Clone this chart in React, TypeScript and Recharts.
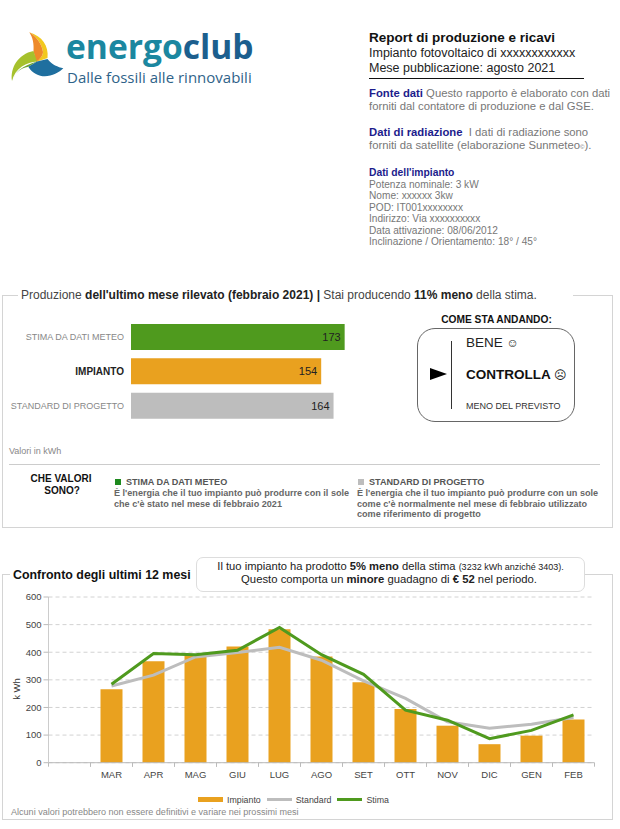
import React from "react";
import { BarChart, ComposedChart, Bar, Line, XAxis, YAxis, CartesianGrid, LabelList, Legend, Cell } from "recharts";

const months = ["", "MAR", "APR", "MAG", "GIU", "LUG", "AGO", "SET", "OTT", "NOV", "DIC", "GEN", "FEB"];
const impianto = [null, 266, 367, 391, 421, 483, 385, 291, 194, 134, 67, 98, 156];
const standard = [null, 278, 317, 383, 399, 418, 371, 296, 233, 148, 125, 139, 164];
const stima = [null, 284, 395, 391, 407, 490, 391, 320, 190, 154, 87, 117, 173];

const lastMonthLabels = ["STIMA DA DATI METEO", "IMPIANTO", "STANDARD DI PROGETTO"];
const lastMonthValues = [173, 154, 164];
const lastMonthColors = ["#4F9A1E", "#E9A11F", "#BDBDBD"];

const yTicks = [0, 100, 200, 300, 400, 500, 600];
const monthData = months.map((m, i) => ({ m, impianto: impianto[i], standard: standard[i], stima: stima[i] }));
const lastMonthData = lastMonthLabels.map((name, i) => ({ name, value: lastMonthValues[i] }));

const FONT = "'Liberation Sans', Arial, sans-serif";
const NAVY = "#1c1c8c";
const GREY = "#777";

function T({ x, cy, size, color = "#222", bold, children, right, center, family }: any) {
  const style: any = {
    position: "absolute",
    top: cy - size / 2,
    fontSize: size,
    lineHeight: `${size}px`,
    color,
    fontWeight: bold ? 700 : 400,
    whiteSpace: "nowrap",
    fontFamily: family || FONT,
  };
  if (right !== undefined) style.right = right;
  else if (center) { style.left = x; style.transform = "translateX(-50%)"; }
  else style.left = x;
  return <div style={style}>{children}</div>;
}

function Box({ x, y, w, h, color = "#d4d4d4", radius = 0, bg }: any) {
  return <div style={{ position: "absolute", left: x, top: y, width: w, height: h, boxSizing: "border-box", border: `1px solid ${color}`, borderRadius: radius, background: bg }} />;
}

function Logo() {
  return (
    <svg width={70} height={60} style={{ position: "absolute", left: 0, top: 25 }} viewBox="0 25 70 60">
      <path d="M29.3 32.3 C42 36 49 46 47.5 58 L36 62 C41 58 43 55 43 52 C42 44 36 36 29.3 32.3Z" fill="#F2C81E" />
      <path d="M29.3 32.3 C36 36 42 44 43 52 C43 56 39 60 36 62 L33.5 51 C34 44 33 38 29.3 32.3Z" fill="#EE8A2A" />
      <path d="M12 81 C10 68 18 54 33.5 51 L37 61.5 C27 62 15 68 12 81Z" fill="#A6C12C" />
      <path d="M12 81 C15 72 22 66 37 61.5 L28.3 66.7 C20 68 14 74 12 81Z" fill="#6DA52F" />
      <path d="M28.3 66.7 L37 61.5 L47.5 59 C52 65 58 67 63.3 68.3 C56 76 38 82 28.3 66.7Z" fill="#1F6F9F" />
    </svg>
  );
}

function MonthTick({ x, y, payload }: any) {
  const half = 21;
  return (
    <g>
      <line x1={x - half} x2={x - half} y1={y - 8} y2={y - 4} stroke="#bbb" />
      <line x1={x + half} x2={x + half} y1={y - 8} y2={y - 4} stroke="#bbb" />
      <text x={x} y={y + 7} textAnchor="middle" fontSize={9.5} fontFamily={FONT} fill="#444">{payload.value}</text>
    </g>
  );
}

function LastMonthTick({ x, y, payload }: any) {
  const isBold = payload.value === "IMPIANTO";
  return (
    <text x={x + 6} y={y + 3} textAnchor="end" fontSize={isBold ? 10 : 9} fontFamily={FONT} fontWeight={isBold ? 700 : 400} fill={isBold ? "#222" : "#888"}>
      {payload.value}
    </text>
  );
}

function LegendRow() {
  const item = (label: string, color: string, h: number, w: number) => (
    <span key={label} style={{ display: "inline-flex", alignItems: "center", marginRight: 6 }}>
      <span style={{ display: "inline-block", width: w, height: h, background: color, marginRight: 4 }} />
      <span style={{ fontSize: 8.8, color: "#444", fontFamily: FONT }}>{label}</span>
    </span>
  );
  return (
    <div style={{ position: "absolute", left: 189.5, top: 0, display: "flex", whiteSpace: "nowrap", lineHeight: "14px" }}>
      {item("Impianto", "#E9A11F", 5, 25)}
      {item("Standard", "#BDBDBD", 3, 25)}
      {item("Stima", "#4F9A1E", 3, 25)}
    </div>
  );
}

export default function App() {
  return (
    <div style={{ position: "absolute", left: 0, top: 0, width: 620, height: 829, overflow: "hidden", background: "#fff", fontFamily: FONT }}>
      <Logo />
      <div style={{ position: "absolute", left: 66, top: 31, fontFamily: "'Open Sans'", fontSize: 33.6, fontWeight: 700, lineHeight: "30px", whiteSpace: "nowrap" }}>
        <span style={{ color: "#1B87A0" }}>energo</span><span style={{ color: "#1C5F8E" }}>club</span>
      </div>
      <T x={67} cy={77} size={15} color="#2F6389" family="'Open Sans'">Dalle fossili alle rinnovabili</T>

      <T x={369} cy={38} size={13.5} bold color="#111">Report di produzione e ricavi</T>
      <T x={369} cy={53} size={12.5} color="#222">Impianto fotovoltaico di xxxxxxxxxxxx</T>
      <T x={369} cy={68} size={12.5} color="#222">Mese pubblicazione: agosto 2021</T>
      <div style={{ position: "absolute", left: 369, top: 77.5, width: 215, height: 1, background: "#111" }} />
      <T x={369} cy={94} size={11.3} color={GREY}><b style={{ color: NAVY }}>Fonte dati</b> Questo rapporto è elaborato con dati</T>
      <T x={369} cy={107} size={11.3} color={GREY}>forniti dal contatore di produzione e dal GSE.</T>
      <T x={369} cy={133} size={11.3} color={GREY}><b style={{ color: NAVY }}>Dati di radiazione</b>&nbsp; I dati di radiazione sono</T>
      <T x={369} cy={146} size={11.3} color={GREY}>forniti da satellite (elaborazione Sunmeteo<span style={{ fontSize: 6 }}>©</span>).</T>
      <T x={369} cy={173} size={10.3} bold color={NAVY}>Dati dell'impianto</T>
      <T x={369} cy={185} size={10.15} color={GREY}>Potenza nominale: 3 kW</T>
      <T x={369} cy={196.5} size={10.15} color={GREY}>Nome: xxxxxx 3kw</T>
      <T x={369} cy={208} size={10.15} color={GREY}>POD: IT001xxxxxxxx</T>
      <T x={369} cy={219.5} size={10.15} color={GREY}>Indirizzo: Via xxxxxxxxxx</T>
      <T x={369} cy={231} size={10.15} color={GREY}>Data attivazione: 08/06/2012</T>
      <T x={369} cy={242.5} size={10.15} color={GREY}>Inclinazione / Orientamento: 18° / 45°</T>

      <Box x={2} y={295} w={611} h={233} />
      <div style={{ position: "absolute", left: 18, top: 290, width: 555, height: 10, background: "#fff" }} />
      <T x={21} cy={295} size={12} color="#444">Produzione <b style={{ color: "#222" }}>dell'ultimo mese rilevato (febbraio 2021) |</b> Stai producendo <b style={{ color: "#222" }}>11% meno</b> della stima.</T>

      <div style={{ position: "absolute", left: 0, top: 320 }}>
        <BarChart width={378} height={103} layout="vertical" data={lastMonthData} margin={{ top: 0, right: 0, bottom: 0, left: 0 }}>
          <XAxis type="number" domain={[0, 200]} hide />
          <YAxis type="category" dataKey="name" width={131} axisLine={false} tickLine={false} tick={<LastMonthTick />} tickMargin={7} interval={0} />
          <Bar dataKey="value" barSize={26} isAnimationActive={false}>
            {lastMonthData.map((d, i) => <Cell key={d.name} fill={lastMonthColors[i]} />)}
            <LabelList dataKey="value" position="insideRight" offset={4} fontSize={11} fontFamily={FONT} fill="#222" />
          </Bar>
        </BarChart>
      </div>

      <T x={496.5} cy={320} size={10.2} bold color="#111" center>COME STA ANDANDO:</T>
      <Box x={417} y={328} w={158} h={94} radius={18} color="#666" />
      <div style={{ position: "absolute", left: 451, top: 341, width: 1, height: 68, background: "#333" }} />
      <svg width={20} height={14} style={{ position: "absolute", left: 429, top: 367 }}><path d="M1 1 L18 7 L1 13Z" fill="#000" /></svg>
      <T x={466} cy={343} size={13.5} color="#222">BENE <span style={{ fontSize: 12 }}>☺</span></T>
      <T x={466} cy={375} size={13.5} bold color="#111">CONTROLLA <span style={{ fontWeight: 400, fontSize: 12 }}>☹</span></T>
      <T x={466} cy={406} size={9} color="#333">MENO DEL PREVISTO</T>

      <T x={9} cy={451} size={9} color="#888">Valori in kWh</T>
      <div style={{ position: "absolute", left: 9, top: 464, width: 591, height: 1, background: "#ccc" }} />
      <T x={61} cy={479} size={10} bold color="#111" center>CHE VALORI</T>
      <T x={62} cy={491} size={10} bold color="#111" center>SONO?</T>

      <div style={{ position: "absolute", left: 115, top: 479, width: 6, height: 6, background: "#1E8A1E" }} />
      <T x={126} cy={483} size={9.1} bold color="#555">STIMA DA DATI METEO</T>
      <T x={114} cy={494} size={9.1} bold color="#666">È l'energia che il tuo impianto può produrre con il sole</T>
      <T x={114} cy={505} size={9.1} bold color="#666">che c'è stato nel mese di febbraio 2021</T>

      <div style={{ position: "absolute", left: 358, top: 479, width: 6, height: 6, background: "#BDBDBD" }} />
      <T x={369} cy={483} size={9.1} bold color="#555">STANDARD DI PROGETTO</T>
      <T x={357} cy={494} size={9.1} bold color="#666">È l'energia che il tuo impianto può produrre con un sole</T>
      <T x={357} cy={505} size={9.1} bold color="#666">come c'è normalmente nel mese di febbraio utilizzato</T>
      <T x={357} cy={515} size={9.1} bold color="#666">come riferimento di progetto</T>

      <Box x={2} y={574} w={611} h={246} />
      <div style={{ position: "absolute", left: 10, top: 568, width: 186, height: 10, background: "#fff" }} />
      <T x={13} cy={575} size={12.4} bold color="#111">Confronto degli ultimi 12 mesi</T>
      <Box x={196} y={557} w={389} h={35} radius={7} color="#ddd" bg="#fff" />
      <T x={390.5} cy={567} size={11.2} color="#222" center>Il tuo impianto ha prodotto <b>5% meno</b> della stima <span style={{ fontSize: 9 }}>(3232 kWh anziché 3403).</span></T>
      <T x={389} cy={580} size={11.3} color="#222" center>Questo comporta un <b>minore</b> guadagno di <b>€ 52</b> nel periodo.</T>

      <div style={{ position: "absolute", left: 0, top: 580 }}>
        <ComposedChart width={620} height={240} data={monthData} margin={{ top: 17, right: 25.5, bottom: 7.3, left: 8.5 }}>
          <CartesianGrid horizontal vertical={false} stroke="#d2d2d2" strokeDasharray="4 3" />
          <XAxis dataKey="m" interval={0} height={30} axisLine={{ stroke: "#bbb" }} tickLine={false} tick={<MonthTick />} />
          <YAxis width={40} domain={[0, 600]} ticks={yTicks} axisLine={{ stroke: "#ccc" }} tickSize={5} tickLine={{ stroke: "#bbb" }} tick={{ fontSize: 9.5, fill: "#444", fontFamily: FONT }}
            label={{ value: "k Wh", angle: -90, position: "insideLeft", offset: 8, dy: 20, style: { fontSize: 9.5, fill: "#333", fontFamily: FONT } }} />
          <Bar dataKey="impianto" name="Impianto" barSize={22} fill="#E9A11F" isAnimationActive={false} />
          <Line dataKey="standard" name="Standard" stroke="#BDBDBD" strokeWidth={3} dot={false} isAnimationActive={false} />
          <Line dataKey="stima" name="Stima" stroke="#4F9A1E" strokeWidth={3} dot={false} isAnimationActive={false} />
          <Legend height={20} content={<LegendRow />} />
        </ComposedChart>
      </div>
      <T x={11} cy={813} size={9.05} color="#888">Alcuni valori potrebbero non essere definitivi e variare nei prossimi mesi</T>
    </div>
  );
}
